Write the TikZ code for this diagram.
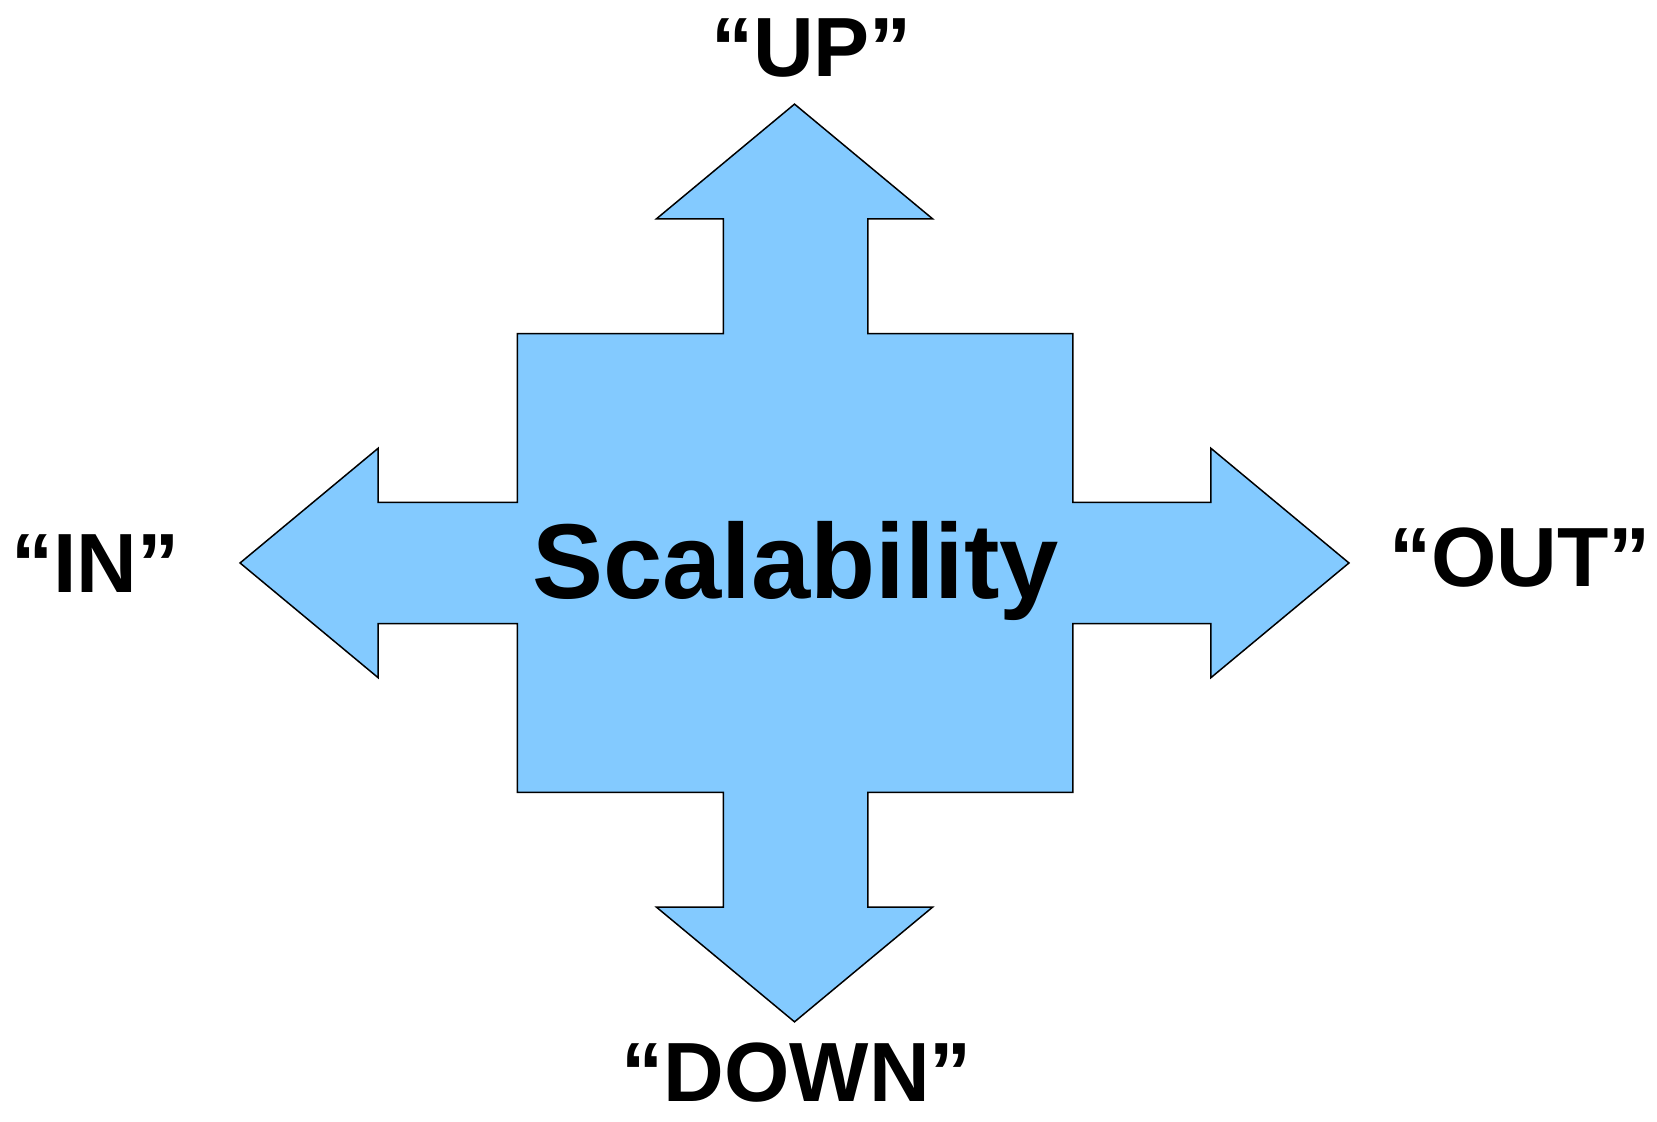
\documentclass[tikz,border=0pt]{standalone}
\usepackage{fontspec}
\setmainfont{Liberation Sans}
\usepackage{tikz}
\definecolor{arrowblue}{RGB}{131,202,255}
\tikzset{dirlabel/.style={anchor=base, inner sep=0pt, text depth=0pt, font=\bfseries\fontsize{22.5}{24}\selectfont}}

\begin{document}
\begin{tikzpicture}[x=0.01cm, y=-0.01cm]
    \useasboundingbox (0,0) rectangle (1560,1056);
    % the four-way arrow
    \draw [fill=arrowblue, line width=0.4pt] (748,98) -- (878,206) -- (817,206) -- (817,314)
        -- (1010,314) -- (1010,473) -- (1140,473) -- (1140,422) -- (1270,530) -- (1140,638)
        -- (1140,587) -- (1010,587) -- (1010,746) -- (817,746) -- (817,854) -- (878,854)
        -- (748,962) -- (618,854) -- (681,854) -- (681,746) -- (487,746) -- (487,587)
        -- (356,587) -- (356,638) -- (226,530) -- (356,422) -- (356,473) -- (487,473)
        -- (487,314) -- (681,314) -- (681,206) -- (618,206) -- cycle;
    \node (scal) [anchor=base, inner sep=0pt, font=\bfseries\fontsize{28.5}{30}\selectfont] at (749,563) {Scalability};
    \node (up) [dirlabel] at (764,72) {“UP”};
    \node (down) [dirlabel] at (750,1037) {“DOWN”};
    \node (in) [dirlabel] at (90,558) {“IN”};
    \node (out) [dirlabel] at (1431,552) {“OUT”};
\end{tikzpicture}
\end{document}
